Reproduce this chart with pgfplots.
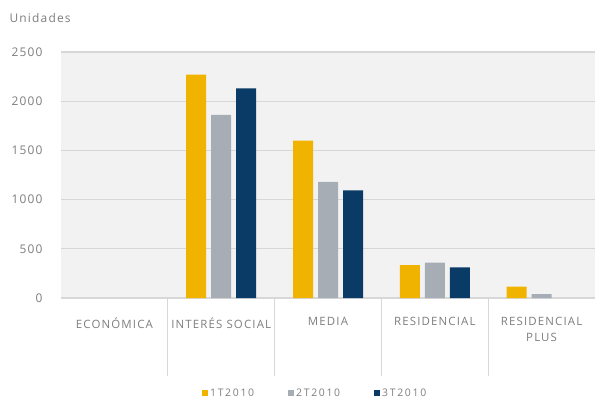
\documentclass[border=0pt]{standalone}
\usepackage{fontspec}
\setmainfont{Open Sans}[LetterSpace=10]
\newfontfamily\legfont{Open Sans}[LetterSpace=16]
\usepackage{pgfplots}
\pgfplotsset{compat=1.18}
\definecolor{cyel}{RGB}{240,180,0}
\definecolor{cgry}{RGB}{167,173,181}
\definecolor{cnav}{RGB}{10,58,102}
\definecolor{cbg}{RGB}{242,242,242}
\definecolor{cgrid}{RGB}{215,215,215}
\definecolor{ctxt}{RGB}{125,125,125}
\begin{document}
\begin{tikzpicture}[x=1bp,y=1bp]
\path[use as bounding box] (0,0) rectangle (595,397);
\begin{axis}[
  at={(61bp,99bp)}, anchor=south west,
  scale only axis, width=534bp, height=246bp,
  xmin=-0.5, xmax=4.5, ymin=0, ymax=2500,
  ytick={0,500,1000,1500,2000,2500},
  xtick={0,1,2,3,4},
  xticklabels={ECONÓMICA,INTERÉS SOCIAL,MEDIA,RESIDENCIAL,RESIDENCIAL\\PLUS},
  xticklabel style={align=center, anchor=north, yshift=-16bp, font=\fontsize{11.5}{16}\selectfont, text=ctxt},
  yticklabel style={font=\fontsize{12}{14}\selectfont, text=ctxt, xshift=-15bp},
  /pgf/number format/assume math mode=true,
  /pgf/number format/1000 sep={},
  major tick length=0pt,
  axis line style={draw=none},
  axis background/.style={fill=cbg},
  ymajorgrids, grid style={cgrid, line width=1.2bp},
  ybar=5bp, bar width=20bp,
  legend style={at={(0.476,-0.386)}, anchor=center, draw=none, fill=none,
    legend columns=3, font=\legfont\fontsize{10.5}{12}\selectfont, text=ctxt,
    /tikz/every even column/.append style={column sep=32bp}},
  legend image code/.code={\fill[#1] (-3bp,-3bp) rectangle (3bp,3bp);},
  clip=false,
]
\addplot[fill=cyel, draw=none] coordinates {(1,2270) (2,1600) (3,335) (4,115)};
\addplot[fill=cgry, draw=none] coordinates {(1,1860) (2,1180) (3,360) (4,40)};
\addplot[fill=cnav, draw=none] coordinates {(1,2130) (2,1095) (3,312)};
\legend{1T2010,2T2010,3T2010}
\foreach \xx in {0.5,1.5,2.5,3.5,4.5}{
  \edef\tmp{\noexpand\draw[cgrid, line width=0.8bp] (axis cs:\xx,0) -- ([yshift=-78bp]axis cs:\xx,0);}\tmp
}
\end{axis}
\node[anchor=west, text=ctxt, font=\fontsize{12}{14}\selectfont] at (6,379) {Unidades};
\end{tikzpicture}
\end{document}
